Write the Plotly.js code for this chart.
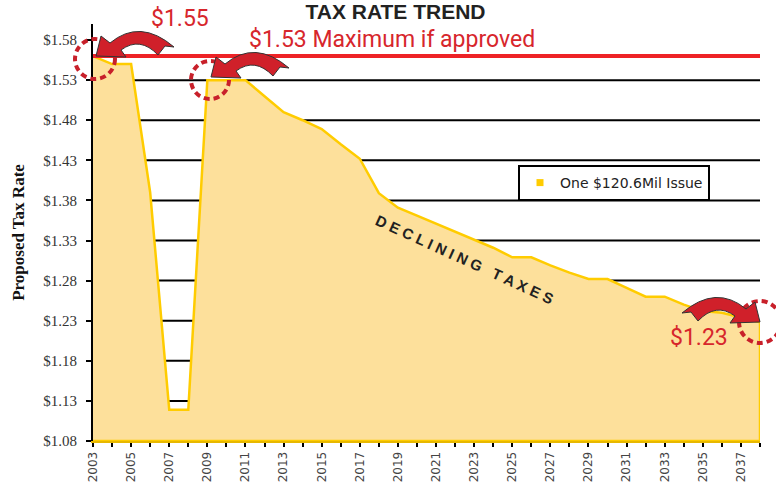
<!DOCTYPE html>
<html>
<head>
<meta charset="utf-8">
<script src="https://cdn.plot.ly/plotly-3.0.1.min.js"></script>
<style>
  html, body { margin: 0; padding: 0; background: #ffffff; }
  #chart { width: 776px; height: 485px; }
</style>
</head>
<body>
<div id="chart"></div>
<script>
// ---------------- data ----------------
const YEARS = [2003, 2004, 2005, 2006, 2007, 2008, 2009, 2010, 2011, 2012,
               2013, 2014, 2015, 2016, 2017, 2018, 2019, 2020, 2021, 2022,
               2023, 2024, 2025, 2026, 2027, 2028, 2029, 2030, 2031, 2032,
               2033, 2034, 2035, 2036, 2037, 2038];
const RATES = [1.555, 1.545, 1.545, 1.385, 1.114, 1.114, 1.525, 1.525, 1.525, 1.505,
               1.485, 1.475, 1.464, 1.445, 1.427, 1.384, 1.366, 1.356, 1.346, 1.336,
               1.326, 1.316, 1.304, 1.304, 1.294, 1.285, 1.277, 1.277, 1.266, 1.255,
               1.255, 1.245, 1.237, 1.235, 1.229, 1.223];
const SERIES_NAME = 'One $120.6Mil Issue';
const Y_TICK_VALUES = [1.075, 1.125, 1.175, 1.225, 1.275, 1.325, 1.375, 1.425, 1.475, 1.525, 1.575];
const Y_TICK_LABELS = ['$1.08', '$1.13', '$1.18', '$1.23', '$1.28', '$1.33', '$1.38', '$1.43', '$1.48', '$1.53', '$1.58'];
const GRID_VALUES = [1.125, 1.175, 1.225, 1.275, 1.325, 1.375, 1.425, 1.475, 1.525];
const X_TICK_LABELS = YEARS.map(function (y) { return (y % 2 === 1) ? String(y) : ''; });
const MAX_RATE = 1.555;
const TITLE = 'TAX RATE TREND';
const Y_TITLE = 'Proposed Tax Rate';
const NOTE_START = '$1.55';
const NOTE_MAX = '$1.53 Maximum if approved';
const NOTE_END = '$1.23';
const NOTE_TREND = 'D E C L I N I N G &nbsp; T A X E S';

// ---------------- layout geometry ----------------
const X_RANGE = [2003, 2038];
const Y_RANGE = [1.075, 1.595];
const M = { l: 93, r: 16, t: 24, b: 44 };
const W = 776 - M.l - M.r, H = 485 - M.t - M.b;
function pxX(sx) { return (sx - M.l) / W; }
function pxY(sy) { return (M.t + H - sy) / H; }

const RED_TEXT = '#D7262C';
const RED_LINE = '#EE2226';
const RED_DASH = '#C8202A';
const ARROW_FILL = '#D0202A';

// area polygon closed down to the axis floor
const areaX = YEARS.concat([YEARS[YEARS.length - 1], YEARS[0]]);
const areaY = RATES.concat([Y_RANGE[0], Y_RANGE[0]]);

const traces = [
  {
    type: 'scatter', mode: 'lines', x: areaX, y: areaY,
    fill: 'toself', fillcolor: '#FDE09B',
    line: { color: '#FFCC00', width: 2.5 },
    showlegend: false, hoverinfo: 'skip'
  },
  {
    type: 'scatter', mode: 'markers', x: [null], y: [null], name: SERIES_NAME,
    marker: { symbol: 'square', size: 7, color: '#FFCC00' }, showlegend: true
  }
];

// curved arrow template (screen px relative to tip, y down)
const ARROW = [
  ['M', 0, 0], ['L', 5, -20], ['L', 14, -13],
  ['Q', 44, -38, 78, -9], ['L', 69, -10], ['L', 62, -1],
  ['Q', 44, -20, 25, -6], ['L', 30, 1], ['Z']
];
function arrowShape(tipX, tipY, mirror) {
  const s = mirror ? -1 : 1;
  let p = '';
  ARROW.forEach(function (c) {
    p += c[0];
    for (let i = 1; i < c.length; i += 2) {
      p += (s * c[i]) + ',' + (-c[i + 1]) + ' ';
    }
  });
  return {
    type: 'path', xref: 'paper', yref: 'paper',
    xsizemode: 'pixel', ysizemode: 'pixel',
    xanchor: pxX(tipX), yanchor: pxY(tipY),
    path: p, fillcolor: ARROW_FILL, line: { color: '#333333', width: 1 }, layer: 'above'
  };
}
function dashedCircle(cx, cy, r) {
  return {
    type: 'circle', xref: 'paper', yref: 'paper',
    xsizemode: 'pixel', ysizemode: 'pixel',
    xanchor: pxX(cx), yanchor: pxY(cy),
    x0: -r, x1: r, y0: -r, y1: r,
    line: { color: RED_DASH, width: 4, dash: '6px,4px' }, layer: 'above'
  };
}

const shapes = GRID_VALUES.map(function (v) {
  return { type: 'line', xref: 'paper', yref: 'y', x0: 0, x1: 1, y0: v, y1: v,
           line: { color: '#000000', width: 2 }, layer: 'below' };
}).concat([
  { type: 'line', xref: 'paper', yref: 'y', x0: 0, x1: 1, y0: MAX_RATE, y1: MAX_RATE,
    line: { color: RED_LINE, width: 4 }, layer: 'above' },
  dashedCircle(95, 59, 20),
  dashedCircle(210, 80, 19),
  dashedCircle(760, 322, 21),
  arrowShape(96, 56, false),
  arrowShape(211, 77, false),
  arrowShape(760, 322, true)
]);

const annotations = [
  { text: NOTE_START, xref: 'paper', yref: 'paper', x: pxX(149), y: pxY(18),
    xanchor: 'left', yanchor: 'middle', showarrow: false,
    font: { family: 'Roboto', size: 23, color: RED_TEXT } },
  { text: NOTE_MAX, xref: 'paper', yref: 'paper', x: pxX(247), y: pxY(39),
    xanchor: 'left', yanchor: 'middle', showarrow: false,
    font: { family: 'Roboto', size: 23, color: RED_TEXT } },
  { text: NOTE_END, xref: 'paper', yref: 'paper', x: pxX(668), y: pxY(337),
    xanchor: 'left', yanchor: 'middle', showarrow: false,
    font: { family: 'Roboto', size: 23, color: RED_TEXT } },
  { text: NOTE_TREND, xref: 'paper', yref: 'paper', x: pxX(465), y: pxY(259),
    xanchor: 'center', yanchor: 'middle', showarrow: false, textangle: 24.5,
    font: { family: 'Liberation Sans', size: 15, color: '#222222', weight: 'bold' } }
];

const layout = {
  width: 776, height: 485,
  margin: M,
  paper_bgcolor: '#ffffff', plot_bgcolor: '#ffffff',
  title: {
    text: '<b>' + TITLE + '</b>', x: 395.5 / 776, xanchor: 'center',
    y: 1 - 19 / 485, yanchor: 'bottom', yref: 'container',
    font: { family: 'Liberation Sans', size: 21, color: '#222222' }
  },
  showlegend: true,
  legend: {
    x: pxX(518), y: pxY(165), xanchor: 'left', yanchor: 'top',
    bgcolor: '#ffffff', bordercolor: '#000000', borderwidth: 2,
    font: { family: 'DejaVu Sans', size: 14, color: '#222222' }
  },
  xaxis: {
    range: X_RANGE, tickmode: 'array', tickvals: YEARS, ticktext: X_TICK_LABELS,
    tickangle: -90, ticks: 'outside', ticklen: 4, tickwidth: 2, tickcolor: '#000000',
    showline: true, linecolor: '#E8B800', linewidth: 2,
    showgrid: false, zeroline: false,
    tickfont: { family: 'DejaVu Sans', size: 12, color: '#444444' }
  },
  yaxis: {
    range: Y_RANGE, tickmode: 'array', tickvals: Y_TICK_VALUES, ticktext: Y_TICK_LABELS,
    ticks: 'outside', ticklen: 5, tickwidth: 2, tickcolor: '#000000',
    ticklabelstandoff: 6,
    showline: true, linecolor: '#000000', linewidth: 2,
    showgrid: false, zeroline: false,
    tickfont: { family: 'Liberation Serif', size: 15, color: '#333333' },
    title: { text: '<b>' + Y_TITLE + '</b>', standoff: 14,
             font: { family: 'Liberation Serif', size: 17, color: '#111111' } }
  },
  shapes: shapes,
  annotations: annotations
};

Plotly.newPlot('chart', traces, layout, { displayModeBar: false, staticPlot: true });
</script>
</body>
</html>
